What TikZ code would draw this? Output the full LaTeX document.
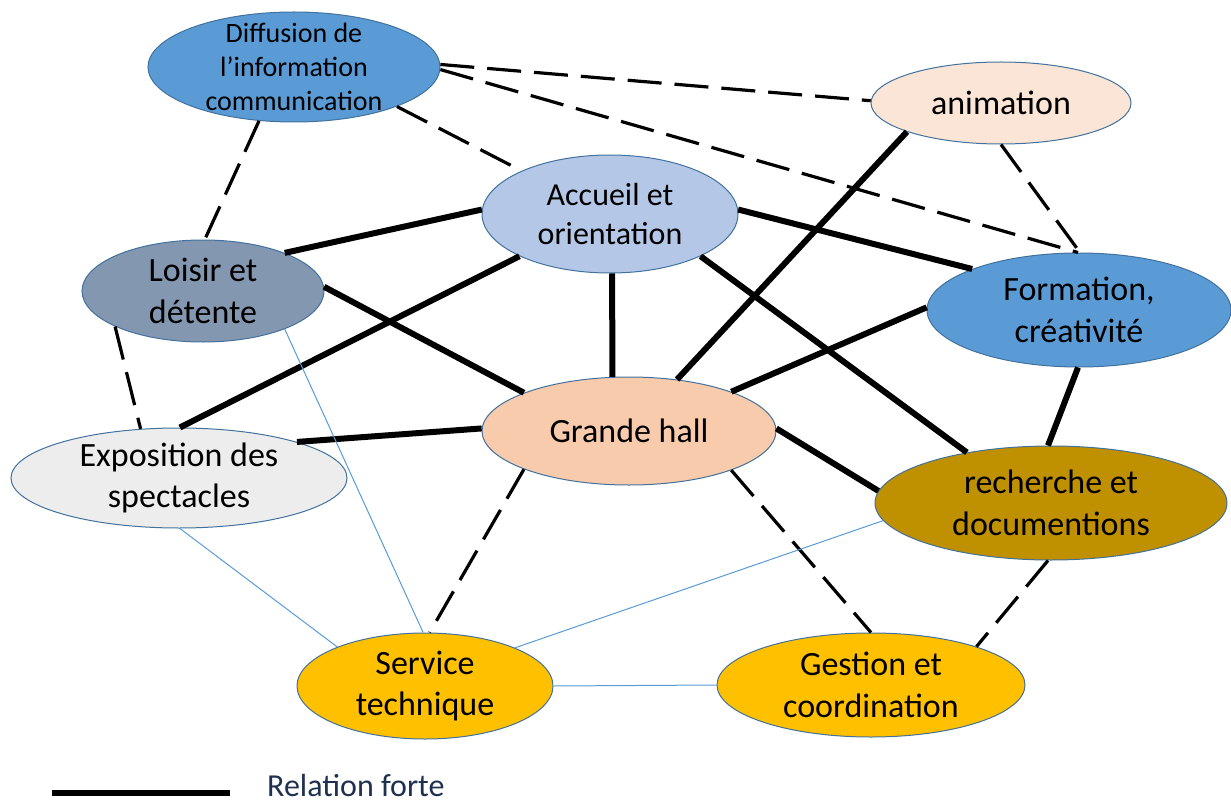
\documentclass[tikz,border=0pt]{standalone}
\usepackage{fontspec}
\setmainfont{Carlito}
\usetikzlibrary{shapes.geometric}

\definecolor{bleuMoyen}{HTML}{5B9BD5}
\definecolor{contour}{HTML}{41719C}
\definecolor{peche}{HTML}{FBE5D6}
\definecolor{bleuClair}{HTML}{B4C7E7}
\definecolor{ardoise}{HTML}{8497B0}
\definecolor{saumon}{HTML}{F8CBAD}
\definecolor{grisClair}{HTML}{EDEDED}
\definecolor{ocre}{HTML}{BF9000}
\definecolor{jaune}{HTML}{FFC000}
\definecolor{legende}{HTML}{1F3050}

\begin{document}
\begin{tikzpicture}[x=1pt,y=-1pt,
  bulle/.style={ellipse,draw=contour,line width=1pt,inner sep=0pt},
  etiq/.style={align=center,text=black,font=\fontsize{34}{41.5}\selectfont},
  forte/.style={line width=6pt},
  tirets/.style={line width=3.2pt,dash pattern=on 34pt off 13pt},
  fine/.style={draw=bleuMoyen,line width=1pt}]
  \useasboundingbox (0,0) rectangle (1231,805);

  \coordinate (Cdiff) at (294, 67);
  \coordinate (Canim) at (1001, 103);
  \coordinate (Cacc) at (610, 214);
  \coordinate (Clois) at (203, 291);
  \coordinate (Cform) at (1079, 310);
  \coordinate (Chall) at (629, 431);
  \coordinate (Cexpo) at (179, 478);
  \coordinate (Crech) at (1051, 503);
  \coordinate (Cserv) at (425, 686);
  \coordinate (Cgest) at (871, 685);

  \node[bulle, fill=bleuMoyen, minimum width=292pt, minimum height=110pt] (diff) at (Cdiff) {};
  \node[bulle, fill=peche, minimum width=260pt, minimum height=82pt] (anim) at (Canim) {};
  \node[bulle, fill=bleuClair, minimum width=256pt, minimum height=118pt] (acc) at (Cacc) {};
  \node[bulle, fill=ardoise, minimum width=242pt, minimum height=102pt] (lois) at (Clois) {};
  \node[bulle, fill=bleuMoyen, minimum width=304pt, minimum height=114pt] (form) at (Cform) {};
  \node[bulle, fill=saumon, minimum width=294pt, minimum height=108pt] (hall) at (Chall) {};
  \node[bulle, fill=grisClair, minimum width=336pt, minimum height=100pt] (expo) at (Cexpo) {};
  \node[bulle, fill=ocre, minimum width=352pt, minimum height=114pt] (rech) at (Crech) {};
  \node[bulle, fill=jaune, minimum width=256pt, minimum height=106pt] (serv) at (Cserv) {};
  \node[bulle, fill=jaune, minimum width=308pt, minimum height=104pt] (gest) at (Cgest) {};

  \node[etiq, font=\fontsize{28}{34}\selectfont] (diffT) at (diff) {Diffusion de\\l’information\\communication};
  \node[etiq] (animT) at (anim) {animation};
  \node[etiq, font=\fontsize{32}{39}\selectfont] (accT) at (acc) {Accueil et\\orientation};
  \node[etiq] (loisT) at (lois) {Loisir et\\détente};
  \node[etiq] (formT) at (form) {Formation,\\créativité};
  \node[etiq] (hallT) at (hall) {Grande hall};
  \node[etiq] (expoT) at (expo) {Exposition des\\spectacles};
  \node[etiq] (rechT) at (rech) {recherche et\\documentions};
  \node[etiq] (servT) at (serv) {Service\\technique};
  \node[etiq] (gestT) at (gest) {Gestion et\\coordination};

  \draw[forte] (lois.25) -- (acc.178);
  \draw[forte] (lois.2) -- (hall.160);
  \draw[forte] (acc.205) -- (expo.89);
  \draw[forte] (acc.272) -- (hall.107);
  \draw[forte] (acc.2) -- (form.159);
  \draw[forte] (acc.335) -- (rech.149);
  \draw[forte] (anim.197) -- (hall.47);
  \draw[forte] (form.179) -- (hall.21);
  \draw[forte] (expo.17) -- (hall.179);
  \draw[forte] (hall.1) -- (rech.176);
  \draw[forte] (form.269) -- (rech.93);

  \draw[tirets] (diff.1) -- (anim.179);
  \draw[tirets] (diff.359) -- (form.91);
  \draw[tirets] (anim.270) -- (form.89);
  \draw[tirets] (diff.339) -- (acc.154);
  \draw[tirets] (diff.237) -- (lois.88);
  \draw[tirets] (lois.202) -- (expo.128);
  \draw[tirets] (hall.200) -- (serv.85);
  \draw[tirets] (hall.339) -- (gest.90);
  \draw[tirets] (rech.267) -- (gest.20);

  \draw[fine] (lois.335) -- (serv.92);
  \draw[fine] (expo.271) -- (serv.156);
  \draw[fine] (rech.186) -- (serv.23);
  \draw[fine] (serv.0) -- (gest.180);

  \coordinate (legA) at (52, 793);
  \coordinate (legB) at (230, 793);
  \draw[forte] (legA) -- (legB);
  \node[anchor=base west, inner sep=0pt, text=legende, font=\fontsize{32}{38}\selectfont] (legT) at (267, 796) {Relation forte};
\end{tikzpicture}
\end{document}
